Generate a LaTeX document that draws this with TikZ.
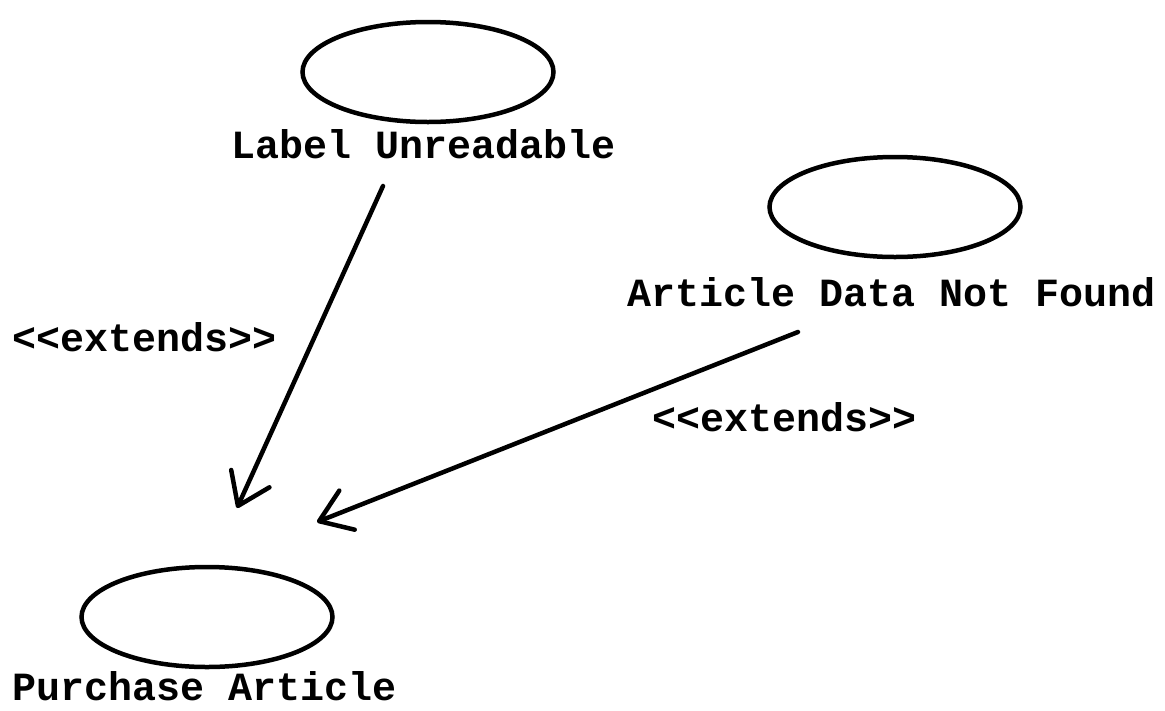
\documentclass[tikz,border=0pt]{standalone}
\usepackage{fontspec}
\setmainfont{Liberation Mono}
\usetikzlibrary{shapes.geometric,arrows.meta}
\begin{document}
\begin{tikzpicture}[x=1pt,y=-1pt,
  usecase/.style={draw=black,line width=4.5pt,ellipse,minimum width=251pt,minimum height=100pt,inner sep=0pt},
  lbl/.style={anchor=base,font=\fontsize{40}{40}\selectfont\bfseries,inner sep=0pt},
  ext/.style={line width=4.5pt,line cap=round,-{Straight Barb[length=30pt,width=42pt,round]}}]
\useasboundingbox (0,0) rectangle (1165,710);
\node[usecase] (lu) at (428,72) {};
\node[usecase] (ad) at (895,207) {};
\node[usecase] (pa) at (207,617) {};
\node[lbl] (lut) at (424,158) {Label Unreadable};
\node[lbl] (adt) at (892,306) {Article Data Not Found};
\node[lbl] (pat) at (205,700) {Purchase Article};
\coordinate (s1) at (383,186);
\coordinate (e1) at (237,508);
\coordinate (s2) at (798,332);
\coordinate (e2) at (317,522);
\draw[ext] (s1) -- (e1);
\draw[ext] (s2) -- (e2);
\node[lbl] (x1) at (145,351) {{<}{<}extends{>}{>}};
\node[lbl] (x2) at (785,431) {{<}{<}extends{>}{>}};
\end{tikzpicture}
\end{document}
